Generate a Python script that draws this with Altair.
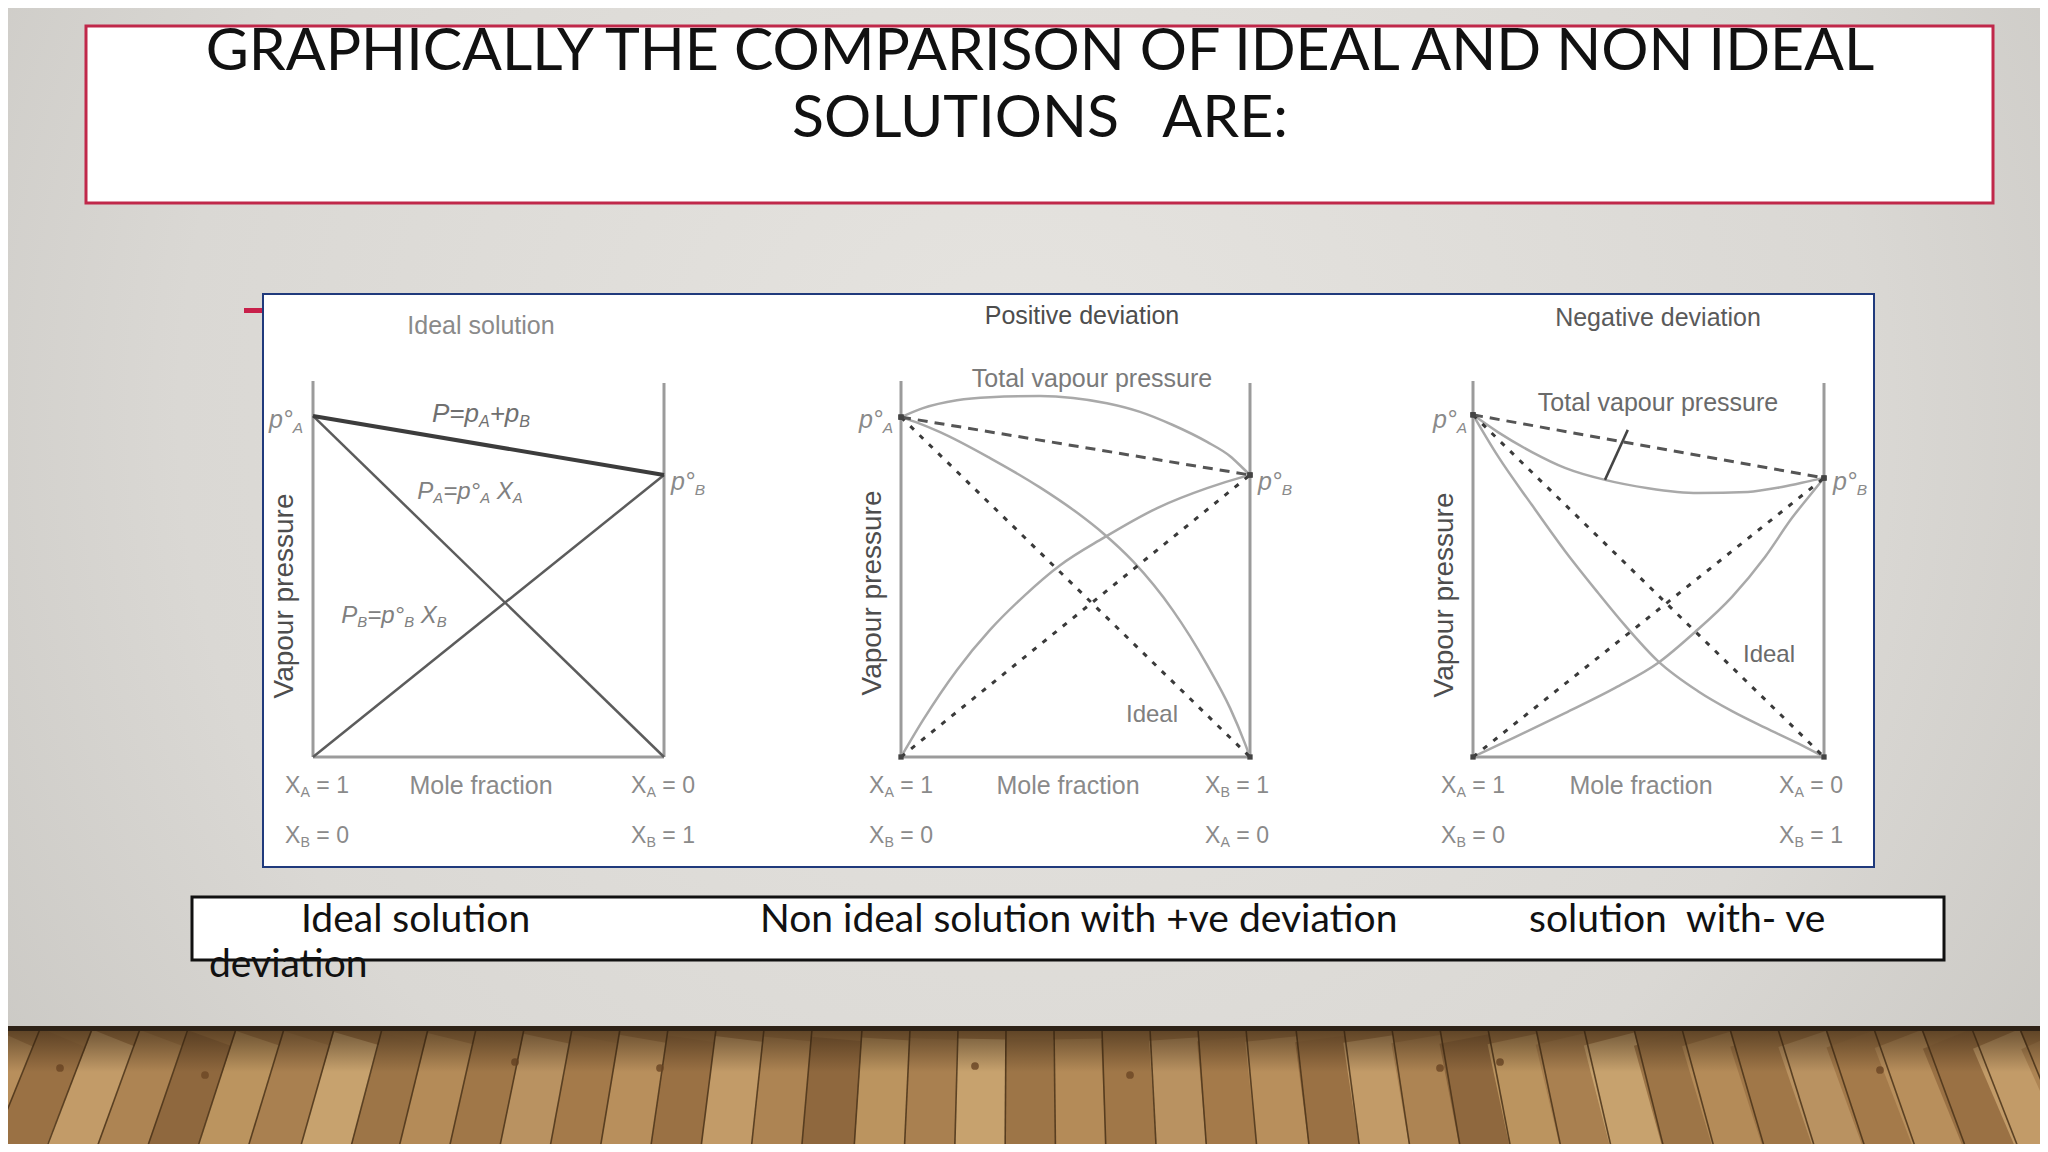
import altair as alt
import pandas as pd

# ---------------- slide text ----------------
TITLE_LINES = ["GRAPHICALLY THE COMPARISON OF IDEAL AND NON IDEAL",
               "SOLUTIONS\u00a0\u00a0\u00a0ARE:"]
CAPTION_TEXTS = ["Ideal solution", "Non ideal solution with +ve deviation",
                 "solution\u00a0\u00a0with- ve", "deviation"]
PANEL_TITLES = ["Ideal solution", "Positive deviation", "Negative deviation"]
Y_LABEL = "Vapour pressure"
X_LABEL = "Mole fraction"
TOTAL_LABEL = "Total vapour pressure"
IDEAL_LABEL = "Ideal"
# end labels of each panel: (subscript, value) top-left, bottom-left, top-right, bottom-right
END_LABELS = [
    [("A", "1"), ("B", "0"), ("A", "0"), ("B", "1")],
    [("A", "1"), ("B", "0"), ("B", "1"), ("A", "0")],
    [("A", "1"), ("B", "0"), ("A", "0"), ("B", "1")],
]

# ---------------- curve data (x = mole fraction from left, p = relative vapour pressure) ----------------
IDEAL_X = [0.0, 1.0]
IDEAL_PA = [0.907, 0.0]
IDEAL_PB = [0.0, 0.750]
IDEAL_TOTAL = [0.907, 0.750]

POS_PA0, POS_PB0 = 0.904, 0.750
POS_TOTAL_X = [0.0, 0.063, 0.160, 0.255, 0.398, 0.493, 0.590, 0.685, 0.779, 0.877, 0.943, 0.980, 1.0]
POS_TOTAL_P = [0.904, 0.928, 0.949, 0.957, 0.960, 0.955, 0.941, 0.918, 0.883, 0.838, 0.800, 0.768, 0.750]
POS_PA_X = [0.0, 0.050, 0.112, 0.255, 0.398, 0.504, 0.579, 0.665, 0.779, 0.877, 0.943, 0.986, 1.0]
POS_PA_P = [0.904, 0.888, 0.864, 0.795, 0.717, 0.650, 0.595, 0.520, 0.390, 0.245, 0.130, 0.035, 0.0]
POS_PB_X = [0.0, 0.063, 0.160, 0.255, 0.350, 0.456, 0.579, 0.734, 0.877, 0.980, 1.0]
POS_PB_P = [0.0, 0.098, 0.231, 0.338, 0.426, 0.510, 0.582, 0.662, 0.715, 0.745, 0.750]

NEG_PA0, NEG_PB0 = 0.910, 0.742
NEG_TOTAL_X = [0.0, 0.071, 0.168, 0.262, 0.376, 0.499, 0.641, 0.783, 0.880, 0.974, 1.0]
NEG_TOTAL_P = [0.910, 0.864, 0.811, 0.769, 0.737, 0.715, 0.702, 0.705, 0.718, 0.737, 0.742]
NEG_PA_X = [0.0, 0.071, 0.168, 0.262, 0.356, 0.433, 0.527, 0.641, 0.738, 0.832, 0.926, 1.0]
NEG_PA_P = [0.910, 0.800, 0.670, 0.548, 0.437, 0.350, 0.255, 0.175, 0.122, 0.078, 0.036, 0.0]
NEG_PB_X = [0.0, 0.120, 0.262, 0.405, 0.527, 0.632, 0.738, 0.832, 0.909, 0.974, 1.0]
NEG_PB_P = [0.0, 0.053, 0.117, 0.184, 0.250, 0.332, 0.426, 0.532, 0.636, 0.712, 0.742]
NEG_LEADER_X = [0.376, 0.441]
NEG_LEADER_P = [0.737, 0.870]

# ---------------- floor decoration ----------------
SEAM_TOPS = [-60, -8, 40, 92, 140, 188, 236, 284, 334, 382, 428, 476, 524, 572, 620, 668,
             716, 764, 812, 862, 910, 958, 1006, 1054, 1102, 1150, 1198, 1246, 1296, 1344,
             1392, 1440, 1488, 1536, 1584, 1634, 1682, 1730, 1778, 1826, 1874, 1922, 1972,
             2020, 2068, 2116]
PLANK_COLORS = ["#a47a4a", "#b88f5c", "#9a7144", "#c29b68", "#ad8453", "#8f683e",
                "#bb945f", "#a98050", "#c7a26e", "#9d7547", "#b48b58", "#a07748", "#b99261"]
KNOTS_X = [60, 205, 515, 660, 975, 1130, 1440, 1500, 1880]
KNOTS_Y = [1068, 1075, 1062, 1068, 1066, 1075, 1068, 1062, 1070]

# ---------------- layout (slide pixels) ----------------
PANEL_LEFT = [313, 901, 1473]
PANEL_W = [351, 349, 351]
BASE_Y = 757
UNIT_H = 376
PANEL_FONT = "Liberation Sans"
SLIDE_FONT = "Lato"

xs = alt.Scale(domain=[8, 2040], nice=False, zero=False)
ys = alt.Scale(domain=[8, 1144], nice=False, zero=False, reverse=True)


def X(f, **kw):
    return alt.X(f"{f}:Q", scale=xs, axis=None, **kw)


def Y(f, **kw):
    return alt.Y(f"{f}:Q", scale=ys, axis=None, **kw)


# ---------------- background ----------------
bg = alt.Chart(pd.DataFrame([{"x": 0, "x2": 2048, "y": 0, "y2": 1152}])).mark_rect(
    clip=True,
    color={"gradient": "radial", "x1": 0.5, "y1": 0.42, "r1": 0, "x2": 0.5, "y2": 0.42, "r2": 0.75,
           "stops": [{"offset": 0, "color": "#e6e4e0"}, {"offset": 0.55, "color": "#dad8d4"},
                     {"offset": 1, "color": "#bebcb7"}]}
).encode(x=X("x"), x2="x2", y=Y("y"), y2="y2")

FLOOR_TOP, FLOOR_BOTTOM, CENTER, PERSP = 1029, 1175, 1024, 1.06
PLANK_START = FLOOR_TOP + 10
plank_rows, seam_rows = [], []
for k in range(len(SEAM_TOPS) - 1):
    t0, t1 = SEAM_TOPS[k], SEAM_TOPS[k + 1]
    ct = (t0 + t1) / 2
    plank_rows.append({"x": ct, "y": PLANK_START, "x2": CENTER + (ct - CENTER) * PERSP, "y2": FLOOR_BOTTOM,
                       "w": (t1 - t0) + 2, "c": PLANK_COLORS[k % len(PLANK_COLORS)]})
for t in SEAM_TOPS:
    seam_rows.append({"x": t, "y": FLOOR_TOP, "x2": CENTER + (t - CENTER) * PERSP, "y2": FLOOR_BOTTOM})
floor_base = alt.Chart(pd.DataFrame([{"x": 0, "x2": 2048, "y": FLOOR_TOP, "y2": 1152}])).mark_rect(
    color="#9f7647", clip=True).encode(x=X("x"), x2="x2", y=Y("y"), y2="y2")
planks = alt.Chart(pd.DataFrame(plank_rows)).mark_rule(strokeCap="butt", clip=True).encode(
    x=X("x"), x2="x2", y=Y("y"), y2="y2",
    strokeWidth=alt.StrokeWidth("w:Q", scale=None, legend=None),
    color=alt.Color("c:N", scale=None, legend=None))
seams = alt.Chart(pd.DataFrame(seam_rows)).mark_rule(color="#4a3219", strokeWidth=1.6, opacity=0.85, clip=True).encode(
    x=X("x"), x2="x2", y=Y("y"), y2="y2")
knots = alt.Chart(pd.DataFrame({"x": KNOTS_X, "y": KNOTS_Y})).mark_circle(
    size=60, color="#6b4624", opacity=0.8, clip=True).encode(x=X("x"), y=Y("y"))
floor_shade = alt.Chart(pd.DataFrame([{"x": 0, "x2": 2048, "y": FLOOR_TOP, "y2": 1072}])).mark_rect(
    clip=True,
    color={"gradient": "linear", "x1": 0, "y1": 0, "x2": 0, "y2": 1,
           "stops": [{"offset": 0, "color": "rgba(40,25,10,0.55)"}, {"offset": 1, "color": "rgba(40,25,10,0)"}]}
).encode(x=X("x"), x2="x2", y=Y("y"), y2="y2")
floor_edge = alt.Chart(pd.DataFrame([{"x": 0, "x2": 2048, "y": 1026, "y2": 1031}])).mark_rect(
    color="#2e2216", clip=True).encode(x=X("x"), x2="x2", y=Y("y"), y2="y2")

# ---------------- boxes ----------------
def box(x, x2, y, y2, fill, stroke, sw):
    return alt.Chart(pd.DataFrame([{"x": x, "x2": x2, "y": y, "y2": y2}])).mark_rect(
        fill=fill, stroke=stroke, strokeWidth=sw).encode(x=X("x"), x2="x2", y=Y("y"), y2="y2")


title_box = box(86, 1993, 26, 203, "white", "#c0284a", 3)
image_box = box(263, 1874, 294, 867, "white", "#203a7c", 2)
caption_box = box(192, 1944, 897, 960, "white", "#111111", 3)
red_dash = alt.Chart(pd.DataFrame([{"x": 244, "x2": 262, "y": 308, "y2": 313}])).mark_rect(
    color="#c8204a").encode(x=X("x"), x2="x2", y=Y("y"), y2="y2")

# ---------------- curves ----------------
crow = []


def add_curve(panel, name, style, xv, pv):
    for i, (a, b) in enumerate(zip(xv, pv)):
        crow.append({"panel": panel, "series": f"{panel}-{name}", "style": style, "i": i, "xb": a, "p": b})


for pnl in range(3):
    add_curve(pnl, "left", "frame", [0, 0], [0, 1.0])
    add_curve(pnl, "right", "frame", [1, 1], [0, 0.995])
    add_curve(pnl, "bottom", "frame", [0, 1], [0, 0])

add_curve(0, "pa", "ideal_part", IDEAL_X, IDEAL_PA)
add_curve(0, "pb", "ideal_part", IDEAL_X, IDEAL_PB)
add_curve(0, "total", "ideal_total", IDEAL_X, IDEAL_TOTAL)

add_curve(1, "total", "solid", POS_TOTAL_X, POS_TOTAL_P)
add_curve(1, "pa", "solid", POS_PA_X, POS_PA_P)
add_curve(1, "pb", "solid", POS_PB_X, POS_PB_P)
add_curve(1, "ipa", "dash_part", [0, 1], [POS_PA0, 0])
add_curve(1, "ipb", "dash_part", [0, 1], [0, POS_PB0])
add_curve(1, "itot", "dash_total", [0, 1], [POS_PA0, POS_PB0])

add_curve(2, "total", "solid", NEG_TOTAL_X, NEG_TOTAL_P)
add_curve(2, "pa", "solid", NEG_PA_X, NEG_PA_P)
add_curve(2, "pb", "solid", NEG_PB_X, NEG_PB_P)
add_curve(2, "ipa", "dash_part", [0, 1], [NEG_PA0, 0])
add_curve(2, "ipb", "dash_part", [0, 1], [0, NEG_PB0])
add_curve(2, "itot", "dash_total", [0, 1], [NEG_PA0, NEG_PB0])
add_curve(2, "leader", "leader", NEG_LEADER_X, NEG_LEADER_P)

cdf = pd.DataFrame(crow)
calc = dict(
    sx=f"[{','.join(map(str, PANEL_LEFT))}][datum.panel] + datum.xb * [{','.join(map(str, PANEL_W))}][datum.panel]",
    sy=f"{BASE_Y} - datum.p * {UNIT_H}",
)

STYLES = {
    "frame": dict(color="#9b9b9b", strokeWidth=3),
    "ideal_part": dict(color="#5c5c5c", strokeWidth=2.5),
    "ideal_total": dict(color="#3c3c3c", strokeWidth=4),
    "solid": dict(color="#a9a9a9", strokeWidth=2.5, interpolate="monotone"),
    "dash_part": dict(color="#3a3a3a", strokeWidth=3, strokeDash=[5, 8]),
    "dash_total": dict(color="#555555", strokeWidth=3, strokeDash=[10, 7]),
    "leader": dict(color="#444444", strokeWidth=2.5),
}
curve_layers = []
for st, props in STYLES.items():
    curve_layers.append(
        alt.Chart(cdf[cdf["style"] == st]).transform_calculate(**calc).mark_line(**props).encode(
            x=X("sx"), y=Y("sy"), detail="series:N", order=alt.Order("i:Q")))
markers = alt.Chart(cdf[cdf["style"].isin(["dash_part", "dash_total"])]).transform_calculate(**calc).mark_square(
    size=28, color="#444444", opacity=1).encode(x=X("sx"), y=Y("sy"))

# ---------------- texts ----------------
ARIAL = {' ': 278, '=': 584, '+': 584, '°': 400, '0': 556, '1': 556, 'A': 667, 'B': 667,
         'P': 667, 'X': 667, 'p': 556}


def tw(s, size):
    return sum(ARIAL.get(c, 556) for c in s) * size / 1000.0


trows = []


def add_text(text, x, y, size, color, font=PANEL_FONT, style="normal", align="center",
             baseline="middle", angle=0):
    trows.append(dict(text=text, x=x, y=y, size=size, color=color, font=font, style=style,
                      align=align, baseline=baseline, angle=angle))


def rich(segs, cx, cy, size, color, style="normal"):
    sub = 0.62
    widths = [tw(t, size * (sub if s else 1)) for t, s in segs]
    x = cx - sum(widths) / 2
    for (t, s), w in zip(segs, widths):
        fs = size * (sub if s else 1)
        lead = len(t) - len(t.lstrip(' '))
        add_text(t.strip(' '), x + tw(' ' * lead, fs), cy + (0.3 * size if s else 0), fs, color,
                 style=style, align="left")
        x += w


# slide title & caption
add_text(TITLE_LINES[0], 1040, 70, 59, "#111111", font=SLIDE_FONT, baseline="alphabetic")
add_text(TITLE_LINES[1], 1040, 137, 59, "#111111", font=SLIDE_FONT, baseline="alphabetic")
for txt, cx, cy in zip(CAPTION_TEXTS, [301, 760, 1529, 209], [932, 932, 932, 977]):
    add_text(txt, cx, cy, 39, "#111111", font=SLIDE_FONT, align="left", baseline="alphabetic")

# panel texts
TITLE_POS = [(481, 326), (1082, 316), (1658, 318)]
TITLE_COL = ["#8a8a8a", "#4d4d4d", "#5a5a5a"]
for t, (cx, cy), col in zip(PANEL_TITLES, TITLE_POS, TITLE_COL):
    add_text(t, cx, cy, 25, col)
for cx, cy in zip([285, 873, 1445], [596, 593, 595]):
    add_text(Y_LABEL, cx, cy, 28, "#4d4d4d", angle=270)
for cx in [481, 1068, 1641]:
    add_text(X_LABEL, cx, 786, 25, "#8a8a8a")
LEFT_C = [317, 901, 1473]
RIGHT_C = [663, 1237, 1811]
for pnl in range(3):
    pos = [(LEFT_C[pnl], 786), (LEFT_C[pnl], 836), (RIGHT_C[pnl], 786), (RIGHT_C[pnl], 836)]
    for (letter, val), (cx, cy) in zip(END_LABELS[pnl], pos):
        rich([("X", 0), (letter, 1), (" = " + val, 0)], cx, cy, 23, "#8a8a8a")
for cx in [286, 876, 1450]:
    rich([("p°", 0), ("A", 1)], cx, 420, 25, "#8a8a8a", style="italic")
for cx in [688, 1275, 1850]:
    rich([("p°", 0), ("B", 1)], cx, 482, 25, "#8a8a8a", style="italic")
rich([("P=p", 0), ("A", 1), ("+p", 0), ("B", 1)], 481, 414, 26, "#707070", style="italic")
rich([("P", 0), ("A", 1), ("=p°", 0), ("A", 1), (" X", 0), ("A", 1)], 470, 492, 24, "#808080", style="italic")
rich([("P", 0), ("B", 1), ("=p°", 0), ("B", 1), (" X", 0), ("B", 1)], 394, 616, 24, "#808080", style="italic")
add_text(TOTAL_LABEL, 1092, 379, 25, "#7a7a7a")
add_text(TOTAL_LABEL, 1658, 403, 25, "#6a6a6a")
add_text(IDEAL_LABEL, 1152, 715, 24, "#808080")
add_text(IDEAL_LABEL, 1769, 655, 24, "#6a6a6a")

tdf = pd.DataFrame(trows)
text_layers = []
for key, g in tdf.groupby(["font", "style", "align", "baseline", "angle"]):
    font, style, align, baseline, angle = key
    text_layers.append(
        alt.Chart(g[["text", "x", "y", "size", "color"]].reset_index(drop=True)).mark_text(
            font=font, fontStyle=style, align=align, baseline=baseline, angle=int(angle)).encode(
            x=X("x"), y=Y("y"), text="text:N",
            size=alt.Size("size:Q", scale=None, legend=None),
            color=alt.Color("color:N", scale=None, legend=None)))

chart = alt.layer(
    bg, floor_base, planks, seams, knots, floor_shade, floor_edge,
    title_box, image_box, red_dash, caption_box,
    *curve_layers, markers, *text_layers
).properties(width=2032, height=1136, padding=0, autosize="none").configure_view(stroke=None)

chart.save("out.html", embed_options={"renderer": "svg", "actions": False})
